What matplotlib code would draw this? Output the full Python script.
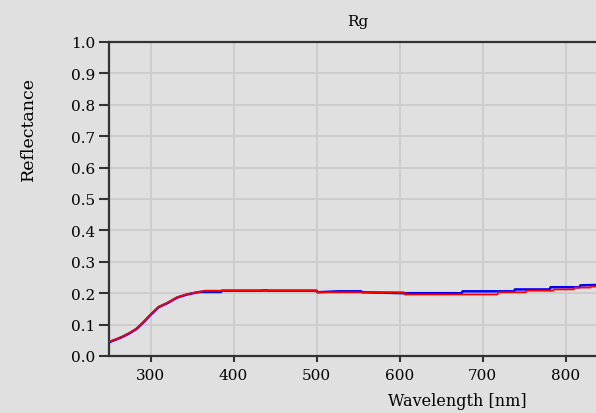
import matplotlib.pyplot as plt
import numpy as np

# Rg reflectance, two measurements (blue under, red on top)
wl_blue = [250, 260, 267, 275, 283, 291, 300, 310, 320, 332, 344, 355, 360, 385,
           386, 415, 416, 430, 431, 440, 441, 500, 501, 526, 554, 555, 606,
           675, 676, 738, 739, 781, 782, 817, 818, 850]
rg_blue = [0.044, 0.054, 0.062, 0.073, 0.086, 0.106, 0.131, 0.156, 0.168, 0.186, 0.196, 0.202, 0.204, 0.204,
           0.208, 0.208, 0.208, 0.208, 0.208, 0.209, 0.208, 0.208, 0.203, 0.206, 0.206, 0.203, 0.200,
           0.200, 0.206, 0.206, 0.212, 0.212, 0.219, 0.219, 0.225, 0.227]

wl_red = [250, 260, 267, 275, 283, 291, 300, 310, 320, 332, 344, 360, 365,
          500, 501, 605, 606, 718, 719, 752, 753, 785, 786, 810, 811, 830, 831, 850]
rg_red = [0.046, 0.055, 0.063, 0.074, 0.087, 0.107, 0.132, 0.157, 0.169, 0.187, 0.197, 0.205, 0.208,
          0.208, 0.203, 0.203, 0.196, 0.196, 0.203, 0.203, 0.208, 0.208, 0.212, 0.212, 0.218, 0.218, 0.221, 0.222]

xticks = [300, 400, 500, 600, 700, 800]
yticks = np.round(np.arange(0, 1.01, 0.1), 1)

plt.rcParams['font.family'] = ['DejaVu Serif']
bg = '#e0e0e0'

fig = plt.figure(figsize=(5.96, 4.14), dpi=100, facecolor=bg)
ax = fig.add_axes([109/596, 1 - 357/414, 498/596, 314/414], facecolor=bg)

ax.plot(wl_blue, rg_blue, color='#0000ff', lw=1.8, zorder=3)
ax.plot(wl_red, rg_red, color='#ff0000', lw=1.3, zorder=4)

ax.set_xlim(250, 850)
ax.set_ylim(0, 1.0)
ax.set_xticks(xticks)
ax.set_yticks(yticks)
ax.set_yticklabels([f'{v:.1f}' for v in yticks])
ax.grid(True, color='#cbcbcb', lw=1.3)
ax.set_axisbelow(True)

for side in ['left', 'bottom', 'top']:
    ax.spines[side].set_color('#333333')
    ax.spines[side].set_linewidth(1.6)
ax.spines['right'].set_visible(False)
ax.tick_params(axis='y', direction='out', length=7, width=1.5, color='#333333',
               labelsize=11, pad=3)
ax.tick_params(axis='x', direction='out', length=4, width=1.5, color='#333333',
               labelsize=11, pad=5)

ax.set_title('Rg', fontsize=11, pad=12)
ax.set_ylabel('Reflectance', fontsize=12.5)
ax.yaxis.set_label_coords(-0.145, 0.726)
ax.set_xlabel('Wavelength [nm]', fontsize=11.5)
ax.xaxis.set_label_coords(0.70, -0.115)

plt.savefig('out.png', dpi=100, facecolor=bg)
